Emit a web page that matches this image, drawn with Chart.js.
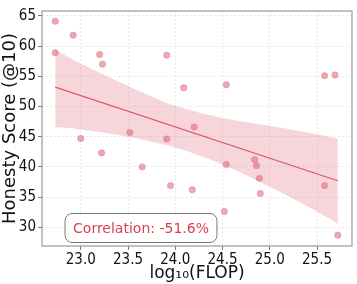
<!DOCTYPE html>
<html>
<head>
<meta charset="utf-8">
<script src="https://cdn.jsdelivr.net/npm/chart.js@4/dist/chart.umd.min.js"></script>
<style>
  body { margin: 0; background: #fff; }
  #wrap { width: 357px; height: 284px; position: relative; }
</style>
</head>
<body>
<div id="wrap"><canvas id="scoreChart"></canvas></div>
<script>
// scatter points: log10(FLOP) vs honesty score
const flop = [22.73, 22.73, 22.92, 23.0, 23.2, 23.23, 23.22, 23.52, 23.65, 23.91, 23.91, 23.95, 24.09,
              24.2, 24.18, 24.54, 24.54, 24.52, 24.84, 24.86, 24.89, 24.9, 25.58, 25.58, 25.69, 25.72];
const score = [64.1, 58.9, 61.8, 44.7, 58.6, 57.0, 42.3, 45.7, 40.0, 58.5, 44.6, 36.9, 53.1,
               46.6, 36.2, 53.6, 40.4, 32.6, 41.2, 40.2, 38.1, 35.6, 36.9, 55.1, 55.2, 28.7];

// regression line and confidence band
const fitX = [22.73, 25.72];
const fitY = [53.2, 37.7];
const bandX = [22.73, 23.0, 23.5, 24.0, 24.5, 25.0, 25.5, 25.72];
const bandUpper = [59.4, 57.1, 53.4, 50.1, 48.1, 46.8, 45.4, 44.7];
const bandLower = [46.6, 46.2, 45.0, 43.2, 40.4, 36.7, 32.6, 30.6];

const xTicks = [23.0, 23.5, 24.0, 24.5, 25.0, 25.5];
const yTicks = [30, 35, 40, 45, 50, 55, 60, 65];

const correlationText = 'Correlation: -51.6%';

const toPts = (xs, ys) => xs.map((x, i) => ({ x: x, y: ys[i] }));

const frameAndLabel = {
    id: 'frameAndLabel',
    afterDraw(chart) {
        const ctx = chart.ctx;
        const a = chart.chartArea;
        ctx.save();
        ctx.strokeStyle = '#9a9a9a';
        ctx.lineWidth = 1.2;
        ctx.strokeRect(a.left, a.top, a.right - a.left, a.bottom - a.top);

        // correlation box
        ctx.font = '14px "DejaVu Sans"';
        const w = ctx.measureText(correlationText).width;
        const cx = 141, cy = 228;
        const bw = w + 16, bh = 29;
        ctx.beginPath();
        ctx.roundRect(cx - bw / 2, cy - bh / 2, bw, bh, 7);
        ctx.fillStyle = '#ffffff';
        ctx.fill();
        ctx.strokeStyle = '#777777';
        ctx.lineWidth = 1;
        ctx.stroke();
        ctx.fillStyle = '#d9404f';
        ctx.textAlign = 'center';
        ctx.textBaseline = 'middle';
        ctx.fillText(correlationText, cx, cy + 1);
        ctx.restore();
    }
};

const tickFont = { family: '"DejaVu Sans Condensed", "DejaVu Sans"', size: 15 };

new Chart(document.getElementById('scoreChart'), {
    type: 'scatter',
    data: {
        datasets: [
            {
                label: 'models',
                data: toPts(flop, score),
                backgroundColor: 'rgba(222, 96, 112, 0.55)',
                borderColor: 'rgba(222, 96, 112, 0.3)',
                borderWidth: 1,
                pointRadius: 3.2,
                order: 0
            },
            {
                label: 'fit',
                data: toPts(fitX, fitY),
                showLine: true,
                borderColor: '#e05565',
                borderWidth: 1.1,
                pointRadius: 0,
                fill: false,
                order: 1
            },
            {
                label: 'upper',
                data: toPts(bandX, bandUpper),
                showLine: true,
                borderWidth: 0,
                borderColor: 'rgba(0,0,0,0)',
                pointRadius: 0,
                tension: 0.3,
                fill: false,
                order: 2
            },
            {
                label: 'lower',
                data: toPts(bandX, bandLower),
                showLine: true,
                borderWidth: 0,
                borderColor: 'rgba(0,0,0,0)',
                backgroundColor: 'rgba(224, 120, 135, 0.3)',
                pointRadius: 0,
                tension: 0.3,
                fill: '-1',
                order: 2
            }
        ]
    },
    options: {
        responsive: true,
        maintainAspectRatio: false,
        animation: false,
        layout: { padding: { top: 4, right: 4, left: 0, bottom: 0 } },
        plugins: {
            legend: { display: false },
            tooltip: { enabled: false },
            filler: { propagate: false }
        },
        scales: {
            x: {
                type: 'linear',
                min: 22.59,
                max: 25.87,
                afterBuildTicks: scale => { scale.ticks = xTicks.map(v => ({ value: v })); },
                afterFit: scale => { scale.height = 38; },
                ticks: {
                    font: tickFont,
                    color: '#111',
                    padding: 1,
                    maxRotation: 0,
                    callback: v => v.toFixed(1)
                },
                grid: {
                    color: '#e4e4e4',
                    tickColor: '#555',
                    tickLength: 4,
                    tickBorderDash: [],
                    lineWidth: 0.8
                },
                border: { display: false, dash: [2, 2] },
                title: {
                    display: true,
                    text: 'log\u2081\u2080(FLOP)',
                    font: { family: 'DejaVu Sans', size: 17 },
                    color: '#111',
                    padding: { top: 0, bottom: 0 }
                }
            },
            y: {
                type: 'linear',
                min: 26.9,
                max: 65.8,
                afterBuildTicks: scale => { scale.ticks = yTicks.map(v => ({ value: v })); },
                afterFit: scale => { scale.width = 42; },
                ticks: {
                    font: tickFont,
                    color: '#111',
                    padding: 2
                },
                grid: {
                    color: '#e4e4e4',
                    tickColor: '#555',
                    tickLength: 4,
                    tickBorderDash: [],
                    lineWidth: 0.8
                },
                border: { display: false, dash: [2, 2] },
                title: {
                    display: true,
                    text: 'Honesty Score (@10)',
                    font: { family: 'DejaVu Sans', size: 18 },
                    color: '#111',
                    padding: { top: 0, bottom: 0 }
                }
            }
        }
    },
    plugins: [frameAndLabel]
});
</script>
</body>
</html>
